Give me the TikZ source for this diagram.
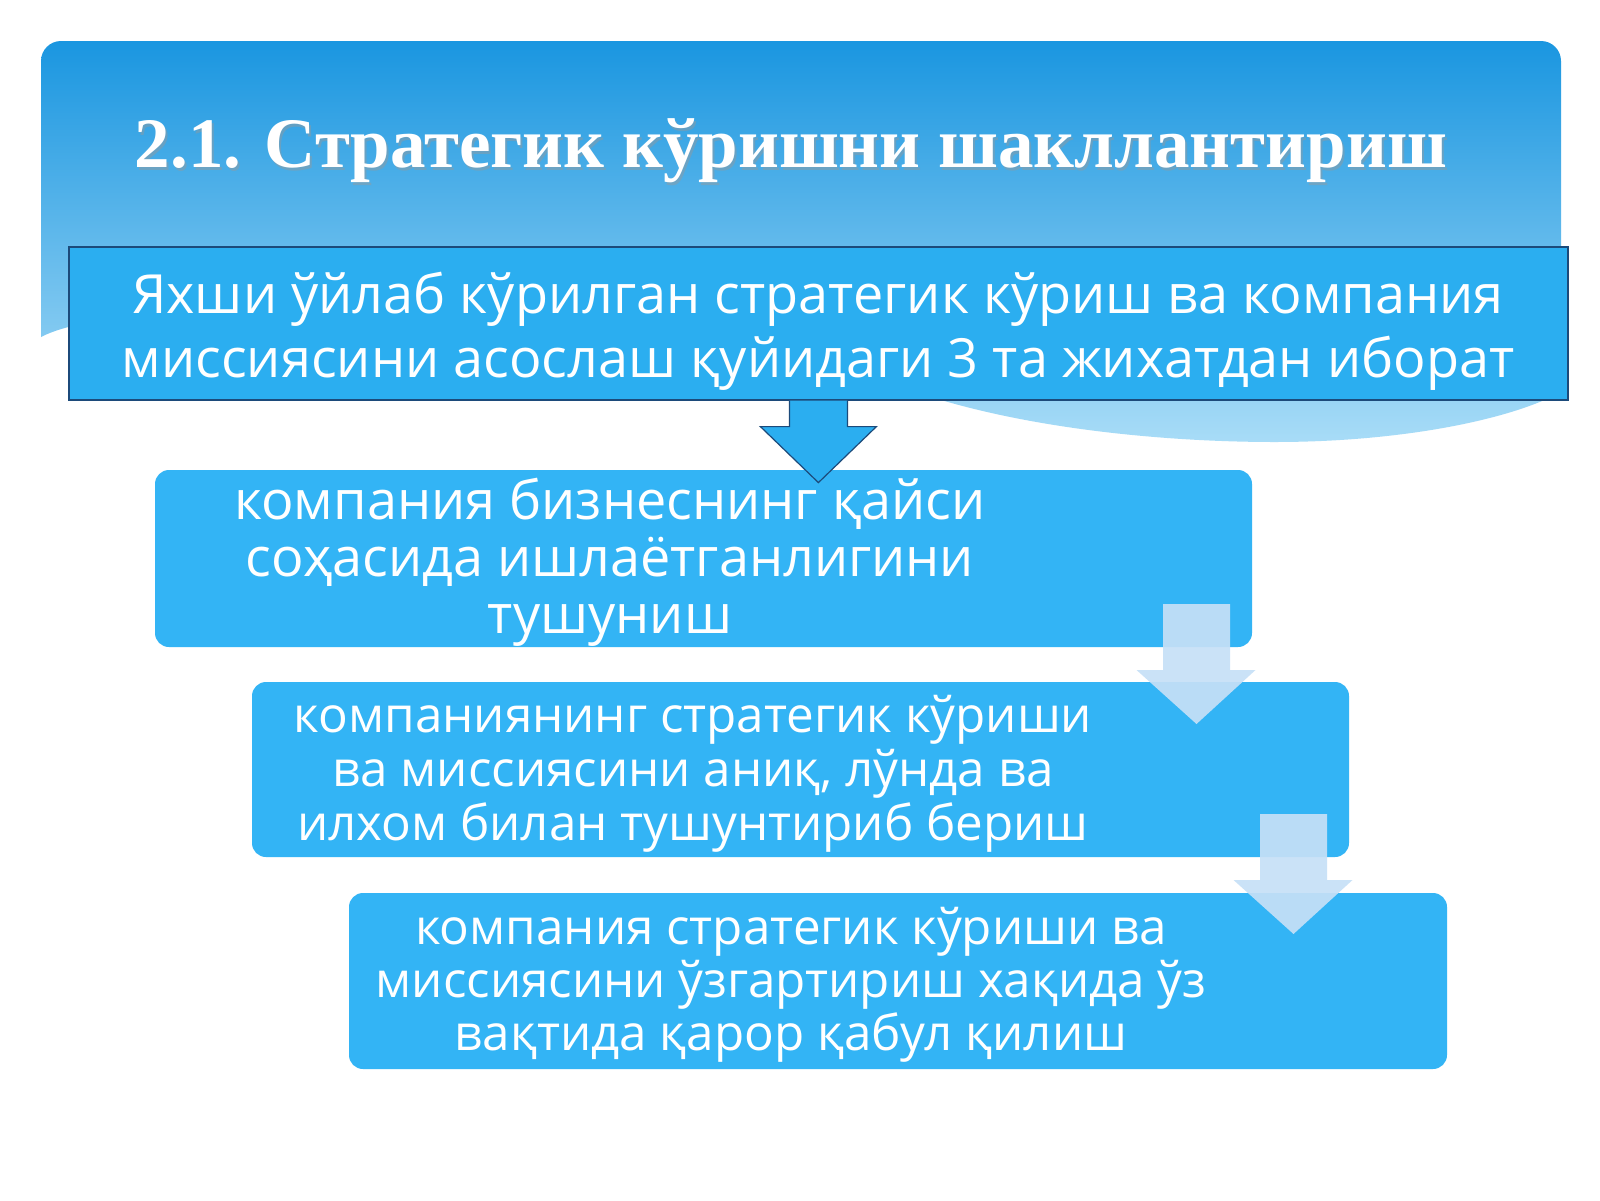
\documentclass[tikz,border=0pt]{standalone}
\usepackage{fontspec}
\setmainfont{Open Sans}
\newfontfamily\titlefont{Liberation Serif}
\usetikzlibrary{calc}
\definecolor{bannertop}{HTML}{1A96E0}
\definecolor{bannermid}{HTML}{3AABEA}
\definecolor{bannerbot}{HTML}{A8DCF7}
\definecolor{mainfill}{HTML}{2BAEF0}
\definecolor{mainedge}{HTML}{1C4A7A}
\definecolor{stepfill}{HTML}{33B4F5}
\definecolor{lightarrow}{HTML}{C6E0F7}
\tikzset{
  mainbox/.style={draw=mainedge, line width=1.2pt, fill=mainfill},
  stepbox/.style={fill=stepfill, rounded corners=14pt},
  boxtext/.style={text=white, align=center, inner sep=0pt},
  darkarrow/.style={draw=mainedge, line width=1.2pt, fill=mainfill, line join=miter},
  lightarr/.style={fill=lightarrow, fill opacity=0.92},
}
\begin{document}
\begin{tikzpicture}[x=1pt,y=-1pt]
\useasboundingbox (0,0) rectangle (1600,1200);
\fill[white] (0,0) rectangle (1600,1200);
% banner
\shade[top color=bannertop, middle color=bannermid, bottom color=bannerbot]
  (41,337) [rounded corners=20pt] -- (41,41) -- (1561,41) [sharp corners] -- (1561,392)
  .. controls (1510,420) and (1400,442) .. (1275,442)
  .. controls (1180,442) and (1050,432) .. (941,400)
  .. controls (700,330) and (150,280) .. (41,337) -- cycle;
% title
\node[text=black!40, opacity=0.45, font=\titlefont\bfseries\fontsize{71}{80}\selectfont, inner sep=0pt] at (793,154) {2.1. Стратегик кўришни шакллантириш};
\node (title) [text=white, font=\titlefont\bfseries\fontsize{71}{80}\selectfont, inner sep=0pt] at (791,151) {2.1. Стратегик кўришни шакллантириш};
% main box
\node (b1) [mainbox, minimum width=1499pt, minimum height=153pt, inner sep=0pt] at (818.5,323.5) {};
\node (t1) [boxtext, font=\fontsize{54}{64}\selectfont] at (818,331) {Яхши ўйлаб кўрилган стратегик кўриш ва компания\\миссиясини асослаш қуйидаги 3 та жихатдан иборат};
% step boxes
\node (b2) [stepbox, minimum width=1097pt, minimum height=177pt, inner sep=0pt] at (703.5,558.5) {};
\node (b3) [stepbox, minimum width=1097pt, minimum height=175pt, inner sep=0pt] at (800.5,769.5) {};
\node (b4) [stepbox, minimum width=1098pt, minimum height=176pt, inner sep=0pt] at (898,981) {};
\node (t2) [boxtext, font=\fontsize{54}{57}\selectfont] at (610,562) {компания бизнеснинг қайси\\соҳасида ишлаётганлигини\\тушуниш};
\node (t3) [boxtext, font=\fontsize{49.3}{54}\selectfont] at (693,774) {компаниянинг стратегик кўриши\\ва миссиясини аниқ, лўнда ва\\илхом билан тушунтириб бериш};
\node (t4) [boxtext, font=\fontsize{49.3}{53}\selectfont] at (791,985) {компания стратегик кўриши ва\\миссиясини ўзгартириш хақида ўз\\вақтида қарор қабул қилиш};
% dark arrow from b1 to b2
\coordinate (a1s) at ($(b1.south west)+(750,0)$);
\draw[darkarrow] ($(a1s)+(-29,0)$) -- ($(a1s)+(-29,26)$) -- ($(a1s)+(-58,26)$)
  -- ($(a1s)+(0,82)$) -- ($(a1s)+(58,26)$) -- ($(a1s)+(29,26)$) -- ($(a1s)+(29,0)$);
% light arrows
\coordinate (a2s) at (1196.5,604);
\fill[lightarr] ($(a2s)+(-33.5,0)$) -- ($(a2s)+(-33.5,66)$) -- ($(a2s)+(-60,66)$)
  -- ($(a2s)+(0,120)$) -- ($(a2s)+(59,66)$) -- ($(a2s)+(33.5,66)$) -- ($(a2s)+(33.5,0)$) -- cycle;
\coordinate (a3s) at (1293.5,814);
\fill[lightarr] ($(a3s)+(-33.5,0)$) -- ($(a3s)+(-33.5,66)$) -- ($(a3s)+(-60,66)$)
  -- ($(a3s)+(0,120)$) -- ($(a3s)+(59,66)$) -- ($(a3s)+(33.5,66)$) -- ($(a3s)+(33.5,0)$) -- cycle;
\end{tikzpicture}
\end{document}
